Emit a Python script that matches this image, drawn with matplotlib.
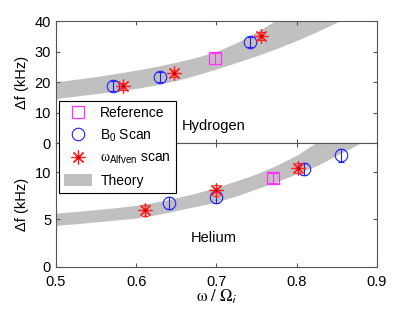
import matplotlib
matplotlib.use('Agg')
import matplotlib.pyplot as plt
from matplotlib.legend_handler import HandlerTuple

plt.rcParams['font.family'] = ['Liberation Sans', 'DejaVu Sans']
# sans text, upright serif greek (like the MATLAB symbol font)
plt.rcParams['mathtext.fontset'] = 'custom'
plt.rcParams['mathtext.rm'] = 'Liberation Sans'
plt.rcParams['mathtext.sf'] = 'Liberation Sans'
plt.rcParams['mathtext.it'] = 'Liberation Serif'

# theory band
x_theory = [0.5, 0.525, 0.55, 0.575, 0.6, 0.625, 0.65, 0.675, 0.7,
            0.725, 0.75, 0.775, 0.8, 0.825, 0.85, 0.875, 0.9]
h_low = [14.6, 15.4, 16.2, 17.0, 17.9, 19.1, 20.5, 22.3, 24.3,
         26.4, 28.6, 31.0, 33.6, 36.5, 39.6, 43.0, 46.5]
h_high = [20.1, 20.9, 21.8, 22.8, 23.9, 25.1, 26.5, 28.1, 30.0,
          32.9, 36.4, 40.4, 45.0, 50.0, 55.0, 60.0, 65.0]
he_low = [4.38, 4.55, 4.75, 4.95, 5.15, 5.5, 5.95, 6.4, 6.85,
          7.5, 8.25, 9.0, 9.84, 10.7, 11.8, 12.9, 14.0]
he_high = [5.68, 5.85, 6.05, 6.25, 6.5, 6.85, 7.3, 7.8, 8.43,
           9.1, 9.84, 10.75, 11.8, 13.2, 14.4, 15.7, 17.2]

# Hydrogen measurements
h_ref_x = [0.698]
h_ref_y = [27.8]
h_ref_err = [1.8]
h_b0_x = [0.571, 0.629, 0.742]
h_b0_y = [18.7, 21.7, 33.0]
h_b0_err = [1.6, 1.6, 1.6]
h_alf_x = [0.583, 0.647, 0.755]
h_alf_y = [18.6, 22.8, 35.1]
h_alf_err = [1.2, 1.2, 1.2]

# Helium measurements
he_ref_x = [0.770]
he_ref_y = [9.42]
he_ref_err = [0.55]
he_b0_x = [0.641, 0.699, 0.809, 0.855]
he_b0_y = [6.74, 7.38, 10.38, 11.79]
he_b0_err = [0.65, 0.65, 0.65, 0.65]
he_alf_x = [0.611, 0.699, 0.802]
he_alf_y = [5.97, 8.08, 10.45]
he_alf_err = [0.55, 0.55, 0.55]

grey = '#c0c0c0'
blue = '#2020ff'
red = '#ff2020'
mag = '#ff30ff'
spine = '#555555'

fig = plt.figure(figsize=(4.15, 3.13), dpi=100)
ax1 = fig.add_axes([0.1349, 0.5431, 0.7735, 0.3898])
ax2 = fig.add_axes([0.1349, 0.1479, 0.7735, 0.3952])


def draw(ax, lo, hi, rx, ry, re, bx, by, be, ax_, ay, ae):
    th = ax.fill_between(x_theory, lo, hi, color=grey, lw=0, zorder=1)
    ax.errorbar(rx, ry, yerr=re, fmt='none', ecolor=mag, elinewidth=0.8,
                capsize=3.6, capthick=0.8, zorder=3)
    ref, = ax.plot(rx, ry, ls='none', marker='s', ms=8, mfc='none',
                   mec=mag, mew=0.9, zorder=3)
    ax.errorbar(bx, by, yerr=be, fmt='none', ecolor=blue, elinewidth=0.8,
                capsize=2, capthick=0.8, zorder=3)
    b0, = ax.plot(bx, by, ls='none', marker='o', ms=9, mfc='none',
                  mec=blue, mew=0.8, zorder=3)
    ax.errorbar(ax_, ay, yerr=ae, fmt='none', ecolor=red, elinewidth=0.8,
                capsize=2, capthick=0.8, zorder=4)
    st, = ax.plot(ax_, ay, ls='none', marker=(8, 2, 0), ms=10,
                  mec=red, mew=0.9, zorder=4)
    dot, = ax.plot(ax_, ay, ls='none', marker='o', ms=2.2, mfc='#c00000',
                   mec='none', zorder=5)
    return ref, b0, (st, dot), th


handles = draw(ax1, h_low, h_high, h_ref_x, h_ref_y, h_ref_err,
               h_b0_x, h_b0_y, h_b0_err, h_alf_x, h_alf_y, h_alf_err)
draw(ax2, he_low, he_high, he_ref_x, he_ref_y, he_ref_err,
     he_b0_x, he_b0_y, he_b0_err, he_alf_x, he_alf_y, he_alf_err)

for ax in (ax1, ax2):
    ax.set_xlim(0.5, 0.9)
    ax.set_xticks([0.5, 0.6, 0.7, 0.8, 0.9])
    ax.tick_params(direction='in', length=3, width=0.8, colors=spine,
                   labelcolor='black', labelsize=10.5, top=True, right=True)
    for s in ax.spines.values():
        s.set_color(spine)
        s.set_linewidth(0.8)
    ax.set_ylabel('Δf (kHz)', fontsize=10.5)

ax1.set_ylim(0, 40)
ax1.set_yticks([0, 10, 20, 30, 40])
ax1.set_xticklabels([])
ax1.text(0.6565, 5.5, 'Hydrogen', fontsize=10.5, va='center')

ax2.set_ylim(0, 13.1)
ax2.set_yticks([0, 5, 10])
ax2.set_xticklabels(['0.5', '0.6', '0.7', '0.8', '0.9'])
ax2.tick_params(axis='x', pad=6)
ax2.text(0.6677, 3.0, 'Helium', fontsize=10.5, va='center')
ax2.set_xlabel(r'$\mathrm{\omega\ /\ \Omega}_\mathsf{i}$', fontsize=12,
               labelpad=-1, math_fontfamily='stix')

labels = ['Reference', r'B$_\mathrm{0}$ Scan',
          r'$\omega_{\mathrm{Alfven}}$ scan', 'Theory']
leg = fig.legend(handles, labels, loc='upper left',
                 bbox_to_anchor=(59.3 / 415, 1 - 101 / 313),
                 borderaxespad=0, fancybox=False, framealpha=1,
                 edgecolor='black', fontsize=10, labelspacing=0.55,
                 handlelength=2.0, handleheight=0.9, handletextpad=0.6,
                 borderpad=0.35,
                 handler_map={tuple: HandlerTuple(ndivide=1)})
leg.get_frame().set_linewidth(0.8)

fig.savefig('out.png', dpi=100)
